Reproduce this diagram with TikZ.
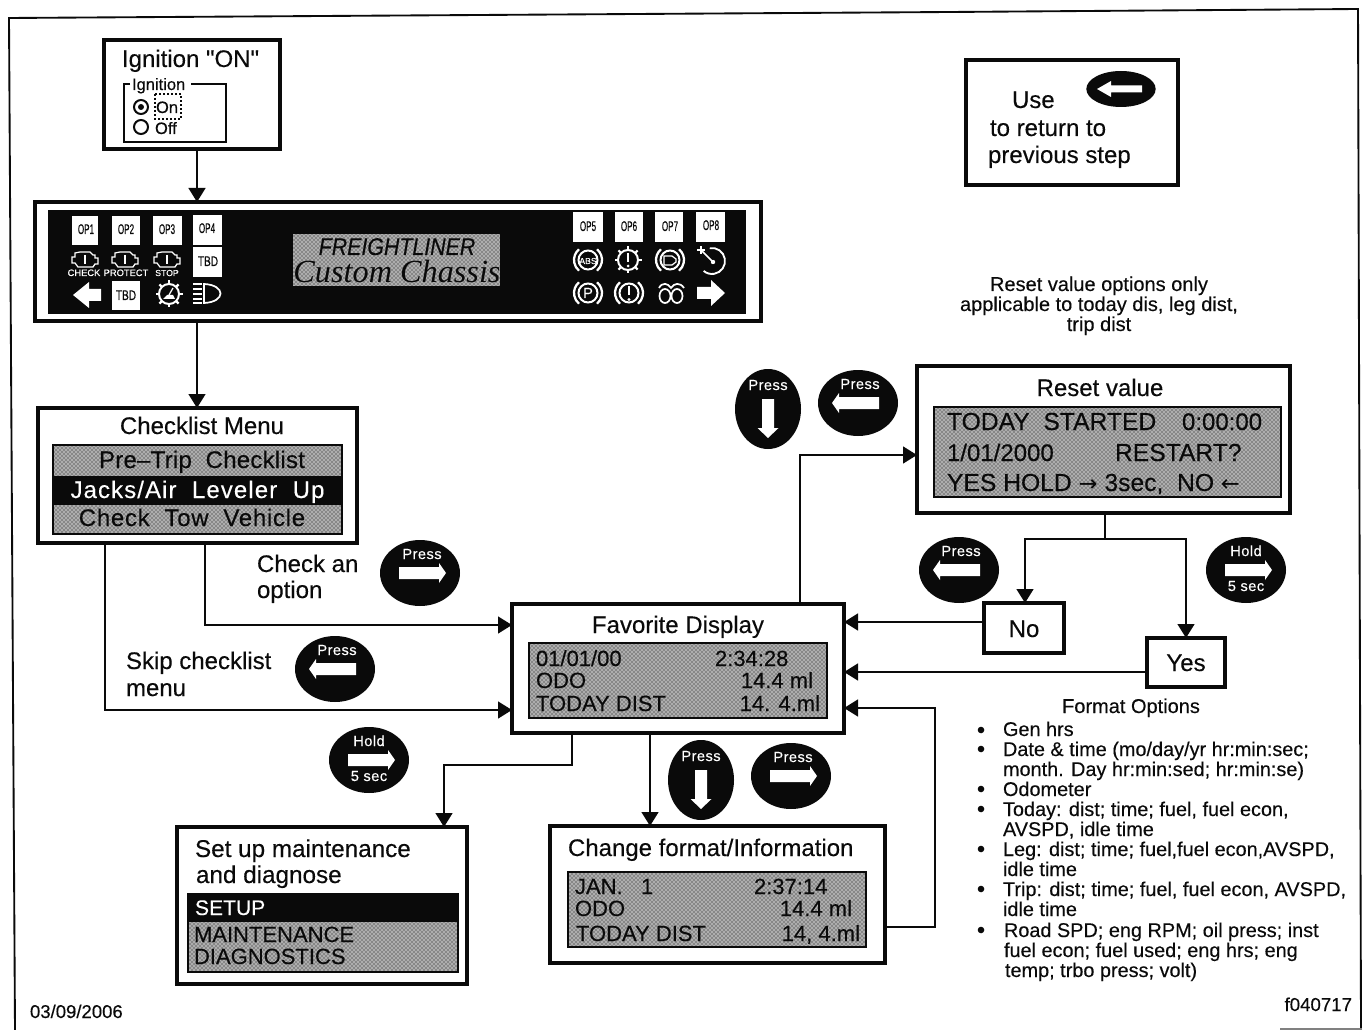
\documentclass[tikz,border=0pt]{standalone}
\usepackage{fontspec}
\usepackage{graphicx}
\setmainfont{Liberation Sans}[FakeBold=0.25]
\newfontfamily\plainf{Liberation Sans}[FakeBold=0.25]
\newfontfamily\serifscr{Liberation Serif}
\newfontfamily\dvf{DejaVu Sans}
\usetikzlibrary{arrows.meta,patterns,shapes.geometric}
\definecolor{ink}{gray}{0.04}
\tikzset{
  boxthick/.style={draw=ink,line width=2.7pt,fill=white,inner sep=0pt,outer sep=0pt},
  boxdisp/.style={draw=ink,line width=1.6pt,fill=white,inner sep=0pt,outer sep=0pt},
  boxblack/.style={draw=ink,fill=ink,line width=0.5pt,inner sep=0pt,outer sep=0pt},
  boxkey/.style={draw=none,fill=white,inner sep=0pt,outer sep=0pt},
  txt/.style={inner sep=0pt,outer sep=0pt,text=ink},
  conn/.style={draw=ink,line width=1.9pt},
  connarrow/.style={conn,-{Triangle[length=10.5pt,width=12.5pt]}},
  keyoval/.style={ellipse,fill=ink,draw=none,inner sep=0pt,outer sep=0pt},
  keyarrow/.style={fill=white,draw=none},
  icon/.style={draw=white,line width=0.95pt,fill=none}
}
\newcounter{tn}
\newcommand{\tx}[5][base west]{\stepcounter{tn}\node[txt,anchor=#1] (t\arabic{tn}) at (#2,#3) {\fontsize{#4}{#4}\selectfont #5};}
\newcommand{\mybox}[6]{%
  \pgfmathsetmacro\bxcx{(#3+#5)/2}\pgfmathsetmacro\bxcy{(#4+#6)/2}%
  \pgfmathsetmacro\bxw{(#5-#3)*0.75}\pgfmathsetmacro\bxh{(#6-#4)*0.75}%
  \node[#1,minimum width=\bxw pt,minimum height=\bxh pt] (#2) at (\bxcx,\bxcy) {};}
\newcommand{\dither}[4]{%
  \fill[black!32] (#1,#2) rectangle (#3,#4);
  \fill[pattern=crosshatch dots,pattern color=ink] (#1,#2) rectangle (#3,#4);}
\newcommand{\harr}[3]{\begin{scope}[shift={(#1,#2)},xscale=#3]
  \fill[keyarrow] (-21,-6)--(19,-6)--(19,-10)--(26,0)--(19,10)--(19,6)--(-21,6)--cycle;
\end{scope}}
\newcommand{\darr}[2]{\begin{scope}[shift={(#1,#2)}]
  \fill[keyarrow] (-6,-10)--(6,-10)--(6,19)--(10.5,19)--(0,29)--(-10.5,19)--(-6,19)--cycle;
\end{scope}}
\newcommand{\ovalh}[6]{\node[keyoval,minimum width=60pt,minimum height=49.5pt] (#1) at (#2,#3) {};
  \tx[base]{#2+2}{#3-14}{11}{\color{white}\addfontfeature{LetterSpace=3}#5}
  \harr{#2}{#3+#6}{#4}}
\newcommand{\ovald}[3]{\node[keyoval,minimum width=49.5pt,minimum height=60pt] (#1) at (#2,#3) {};
  \tx[base]{#2}{#3-19}{11}{\color{white}\addfontfeature{LetterSpace=3}Press}
  \darr{#2}{#3}}
\newcommand{\ovalhold}[3]{\node[keyoval,minimum width=60pt,minimum height=49.5pt] (#1) at (#2,#3) {};
  \tx[base]{#2}{#3-14}{11}{\color{white}\addfontfeature{LetterSpace=3}Hold}
  \tx[base]{#2}{#3+21}{11}{\color{white}\addfontfeature{LetterSpace=3}5 sec}
  \harr{#2}{#3}{1}}
\newcommand{\keylabel}[4][.58]{\tx[base]{#2}{#3+5}{10.5}{\scalebox{#1}[1]{#4}}}
\newcommand{\engine}[2]{\begin{scope}[shift={(#1,#2)}]
  \draw[icon] (-13,-3)--(-10,-3)--(-10,-7)--(-5,-8)--(5,-8)--(8,-5)--(10,-5)--(10,-2)--(13,-2)--(13,4)--(10,4)--(8,7)--(-7,7)--(-10,3)--(-13,3)--cycle;
  \draw[icon] (0,-5)--(0,4);
\end{scope}}
\newcommand{\gearicon}[2]{\begin{scope}[shift={(#1,#2)}]
  \draw[icon,line width=1.5pt] (0,0) circle (10);
  \foreach \a in {0,45,...,315}{\draw[icon,line width=1.6pt] (\a:10)--(\a:13.5);}
\end{scope}}
\newcommand{\parens}[2]{\begin{scope}[shift={(#1,#2)}]
  \draw[icon,line width=1.5pt] (0,0) circle (9.5);
  \draw[icon,line width=1.7pt] (-130:14) arc[start angle=-130,end angle=-230,radius=14];
  \draw[icon,line width=1.7pt] (-50:14) arc[start angle=-50,end angle=50,radius=14];
\end{scope}}
\begin{document}
\begin{tikzpicture}[x=0.75pt,y=-0.75pt]
\useasboundingbox (0,0) rectangle (1362,1030);
\fill[white] (0,0) rectangle (1362,1030);
% outer frame
\coordinate (fbl) at (15,1030);
\coordinate (ftl) at (9,18);
\coordinate (ftm) at (950,12);
\coordinate (ftr) at (1358,9);
\coordinate (fbr) at (1361,1030);
\draw[ink,line width=1.4pt] (fbl)--(ftl)--(ftm)--(ftr)--(fbr);
\coordinate (fba) at (1280,1029);
\coordinate (fbb) at (1362,1029);
\draw[gray,line width=1pt] (fba)--(fbb);

% ---- boxes
\mybox{boxthick}{ign}{104}{40}{280}{149}
\mybox{boxthick}{panel}{35}{202}{761}{321}
\mybox{boxthick}{chk}{38}{408}{357}{543}
\mybox{boxthick}{fav}{512}{604}{844}{733}
\mybox{boxthick}{reset}{917}{366}{1290}{513}
\mybox{boxthick}{setup}{177}{827}{467}{984}
\mybox{boxthick}{chg}{550}{826}{885}{963}
\mybox{boxthick}{use}{966}{60}{1178}{185}
\mybox{boxthick}{no}{984}{603}{1064}{653}
\mybox{boxthick}{yes}{1147}{638}{1225}{687}

% ---- connectors
\draw[connarrow] (ign.south -| 197,0) -- (panel.north -| 197,0);
\draw[connarrow] (panel.south -| 197,0) -- (chk.north -| 197,0);
\draw[connarrow] (chk.south -| 205,0) |- (fav.west |- 0,625);
\draw[connarrow] (chk.south -| 105,0) |- (fav.west |- 0,710);
\draw[connarrow] (fav.north -| 800,0) |- (reset.west |- 0,455);
\draw[conn] (reset.south -| 1105,0) -- (1105,539);
\coordinate (split) at (1105,539);
\draw[connarrow] (split) -| (no.north -| 1025,0);
\draw[connarrow] (split) -| (yes.north -| 1186,0);
\draw[connarrow] (no.west |- 0,622) -- (fav.east |- 0,622);
\draw[connarrow] (yes.west |- 0,672) -- (fav.east |- 0,672);
\draw[connarrow] (chg.east |- 0,927) -| (935,708) -- (fav.east |- 0,708);
\draw[connarrow] (fav.south -| 650,0) -- (chg.north -| 650,0);
\draw[connarrow] (fav.south -| 572,0) |- (444,765) -- (setup.north -| 444,0);

% ---- Ignition
\tx{122}{67}{18}{\plainf Ignition "ON"}
\tx{132}{90}{12.4}{Ignition}
\coordinate (ib1) at (130,84); \coordinate (ib2) at (124,84); \coordinate (ib3) at (124,142);
\coordinate (ib4) at (226,142); \coordinate (ib5) at (226,84); \coordinate (ib6) at (191,84);
\draw[ink,line width=1.5pt] (ib1)--(ib2)--(ib3)--(ib4)--(ib5)--(ib6);
\node[draw=ink,line width=1.5pt,circle,minimum size=10.5pt,inner sep=0pt] (ron) at (141,107) {};
\node[fill=ink,circle,minimum size=4.5pt,inner sep=0pt] (rond) at (141,107) {};
\node[draw=ink,line width=1.5pt,circle,minimum size=10.5pt,inner sep=0pt] (roff) at (141,127) {};
\tx{156}{113}{12.4}{On}
\tx{155}{134}{12.4}{Off}
\coordinate (df1) at (155,94); \coordinate (df2) at (181,119);
\draw[ink,line width=1.5pt,dash pattern=on 1.5pt off 1.5pt] (df1) rectangle (df2);

% ---- Use box
\tx{1012}{108}{18}{Use}
\tx{990}{136}{18}{to return to}
\tx{988}{163}{18}{previous step}
\node[keyoval,minimum width=52pt,minimum height=27pt] (ovuse) at (1121,89) {};
\fill[keyarrow] (1142,85.5)--(1111,85.5)--(1111,81)--(1097,89)--(1111,97)--(1111,92.5)--(1142,92.5)--cycle;

% ---- Panel
\mybox{boxblack}{pnlblk}{48}{210}{745}{313}
\mybox{boxkey}{op1}{72}{216}{98}{245}
\mybox{boxkey}{op2}{112}{216}{140}{245}
\mybox{boxkey}{op3}{153}{216}{182}{245}
\mybox{boxkey}{op4}{193}{215}{222}{245}
\mybox{boxkey}{tbda}{193}{247}{222}{277}
\mybox{boxkey}{tbdb}{112}{281}{140}{310}
\mybox{boxkey}{op5}{573}{212}{603}{242}
\mybox{boxkey}{op6}{615}{212}{643}{242}
\mybox{boxkey}{op7}{655}{212}{683}{242}
\mybox{boxkey}{op8}{696}{212}{725}{242}
\keylabel{86}{229}{OP1}\keylabel{126}{229}{OP2}\keylabel{167}{229}{OP3}\keylabel{207}{228}{OP4}
\keylabel[.72]{208}{261}{TBD}\keylabel[.72]{126}{295}{TBD}
\keylabel{588}{226}{OP5}\keylabel{629}{226}{OP6}\keylabel{670}{226}{OP7}\keylabel{711}{225}{OP8}
\engine{85}{260}\engine{125}{260}\engine{167}{260}
\tx[base]{84}{276}{7}{\color{white}CHECK}
\tx[base]{126}{276}{7}{\color{white}PROTECT}
\tx[base]{167}{276}{6.5}{\color{white}STOP}
% left/right panel arrows
\fill[keyarrow] (101,289)--(89,289)--(89,282)--(73,295)--(89,308)--(89,301)--(101,301)--cycle;
\fill[keyarrow] (697,287)--(711,287)--(711,280)--(725,293)--(711,306)--(711,299)--(697,299)--cycle;
% gear with pedal
\gearicon{169}{294}
\fill[white] (163,299)--(175,299)--(173,295)--(167,295)--cycle;
\draw[icon] (169,295)--(173,288);
% headlamp
\draw[icon,line width=1.3pt] (204,284) .. controls (226,285) and (226,302) .. (204,303) -- cycle;
\foreach \yy in {284,289,294,299,303}{\draw[icon] (193,\yy)--(202,\yy);}
% right icons row 1
\parens{588}{260}
\tx[base]{588}{264}{6.5}{\color{white}ABS}
\gearicon{628}{260}
\draw[icon,line width=1.6pt] (628,253)--(628,262);
\fill[white] (628,266) circle (1.5);
\parens{670}{260}
\draw[icon] (664,256)--(672,256)--(676,259)--(676,262)--(672,265)--(664,265)--cycle;
% gauge
\draw[icon,line width=1.4pt] (712,261) ++(-100:13) arc[start angle=-100,end angle=130,radius=13];
\fill[white] (713,262) circle (2.2);
\draw[icon,line width=1.2pt] (713,262)--(701,250);
\draw[icon] (697,250)--(705,250) (701,246)--(701,254);
% right icons row 2
\parens{588}{293}
\tx[base]{588}{298}{11}{\color{white}P}
\parens{629}{293}
\draw[icon,line width=1.9pt] (629,286)--(629,295);
\fill[white] (629,299.5) circle (1.6);
% coil
\draw[icon,line width=1.3pt] (665,296) ellipse (5.5 and 7);
\draw[icon,line width=1.3pt] (677,296) ellipse (5.5 and 7);
\draw[icon,line width=1.3pt] (659,288) .. controls (662,282) and (668,283) .. (671,288) .. controls (674,283) and (680,282) .. (684,288);
% screen
\dither{293}{234}{500}{286}
\tx[base]{397}{255}{16.5}{\scalebox{.97}[1.1]{\itshape FREIGHTLINER}}
\tx[base]{397}{283}{24.2}{\serifscr\itshape Custom Chassis}

% ---- Checklist
\tx[base]{202}{434}{18}{Checklist Menu}
\mybox{boxdisp}{chkd}{53}{445}{342}{534}
\dither{54}{446}{341}{533}
\mybox{boxblack}{chkb}{53}{476}{342}{504}
\tx[base]{202}{468}{18}{\addfontfeature{LetterSpace=1}Pre–Trip\ \ Checklist}
\tx[base]{197.5}{498}{18}{\color{white}\addfontfeature{LetterSpace=4.5}Jacks/Air\ \ Leveler\ \ Up}
\tx[base]{192}{526}{18}{\addfontfeature{LetterSpace=3}Check\ \ Tow\ \ Vehicle}
\tx{257}{572}{18}{Check an}
\tx{257}{598}{18}{option}
\tx{126}{669}{18}{Skip checklist}
\tx{126}{696}{18}{menu}
\ovalh{ova}{420}{573}{1}{Press}{0}
\ovalh{ovb}{335}{669}{-1}{Press}{0}

% ---- Favorite
\tx[base]{678}{633}{18}{Favorite Display}
\mybox{boxdisp}{favd}{529}{643}{827}{718}
\dither{530}{644}{826}{717}
\tx{536}{666}{16.5}{01/01/00}
\tx{715}{666}{16.5}{2:34:28}
\tx{536}{688}{16.5}{ODO}
\tx[base east]{813}{688}{16.5}{14.4 ml}
\tx{536}{711}{16.5}{TODAY DIST}
\tx[base east]{820}{711}{16.5}{14. 4.ml}
\ovalhold{ovc}{369}{760}
\ovald{ovd}{701}{780}
\ovalh{ove}{791}{776}{1}{Press}{0}

% ---- Reset
\tx[base]{1099}{291}{15}{Reset value options only}
\tx[base]{1099}{311}{15}{applicable to today dis, leg dist,}
\tx[base]{1099}{331}{15}{trip dist}
\tx[base]{1100}{396}{18}{Reset value}
\mybox{boxdisp}{resd}{934}{407}{1281}{497}
\dither{935}{408}{1280}{496}
\tx{947}{430}{18.5}{TODAY\ \ STARTED}
\tx{1182}{430}{18}{0:00:00}
\tx{947}{461}{18}{1/01/2000}
\tx{1115}{461}{18.5}{RESTART?}
\tx{947}{491}{18.5}{YES HOLD {\dvf\fontsize{17}{17}\selectfont →} 3sec,\ \ NO {\dvf\fontsize{17}{17}\selectfont ←}}
\ovald{ovf}{768}{409}
\ovalh{ovg}{858}{403}{-1}{Press}{0}
\ovalh{ovh}{959}{570}{-1}{Press}{0}
\ovalhold{ovi}{1246}{570}
\tx[base]{1024}{637}{18}{No}
\tx[base]{1186}{671}{18}{Yes}

% ---- Setup
\tx{195}{857}{18.2}{Set up maintenance}
\tx{196}{883}{18.2}{and diagnose}
\mybox{boxdisp}{setd}{188}{894}{458}{972}
\dither{189}{895}{457}{971}
\mybox{boxblack}{setb}{188}{894}{458}{921}
\tx{195}{915}{15.8}{\color{white}SETUP}
\tx{194}{942}{16.5}{MAINTENANCE}
\tx{194}{964}{16.5}{DIAGNOSTICS}

% ---- Change
\tx{568}{856}{18}{Change format/Information}
\mybox{boxdisp}{chgd}{568}{872}{866}{947}
\dither{569}{873}{865}{946}
\tx{575}{894}{16.5}{JAN.\ \ \ 1}
\tx{754}{894}{16.5}{2:37:14}
\tx{575}{916}{16.5}{ODO}
\tx[base east]{852}{916}{16.5}{14.4 ml}
\tx{576}{941}{16.5}{TODAY DIST}
\tx[base east]{860}{941}{16.5}{14, 4.ml}

% ---- Format options
\tx[base]{1131}{713}{15}{Format Options}
\foreach \yy in {730,749,789,809,849,889,930}{\fill[ink] (981,\yy) circle (3.3);}
\tx{1003}{736}{14.9}{Gen hrs}
\tx{1003}{756}{14.9}{Date \& time (mo/day/yr hr:min:sec;}
\tx{1003}{776}{14.9}{month. Day hr:min:sed; hr:min:se)}
\tx{1003}{796}{14.9}{Odometer}
\tx{1003}{816}{14.9}{Today: dist; time; fuel, fuel econ,}
\tx{1003}{836}{14.9}{AVSPD, idle time}
\tx{1003}{856}{14.9}{Leg: dist; time; fuel,fuel econ,AVSPD,}
\tx{1003}{876}{14.9}{idle time}
\tx{1003}{896}{14.9}{Trip: dist; time; fuel, fuel econ, AVSPD,}
\tx{1003}{916}{14.9}{idle time}
\tx{1004}{937}{14.9}{Road SPD; eng RPM; oil press; inst}
\tx{1004}{957}{14.9}{fuel econ; fuel used; eng hrs; eng}
\tx{1005}{977}{14.9}{temp; trbo press; volt)}
\tx{30}{1018}{13.9}{03/09/2006}
\tx[base east]{1352}{1011}{14}{f040717}
\end{tikzpicture}
\end{document}
